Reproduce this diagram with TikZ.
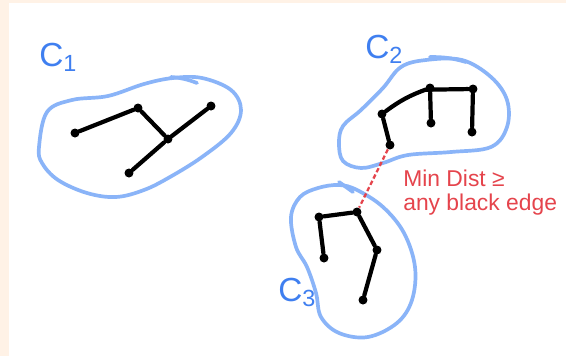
\documentclass[tikz,border=0pt]{standalone}
\usepackage{fontspec}
\setmainfont{Liberation Sans}
\definecolor{cream}{HTML}{FFF2E6}
\definecolor{blobblue}{HTML}{8AB4F8}
\definecolor{labelblue}{HTML}{3F7FF0}
\definecolor{notered}{HTML}{E5444C}
\tikzset{
  vert/.style={circle, fill=black, inner sep=0pt, minimum size=0.18cm},
  edge/.style={line width=2.4pt, line cap=round},
  blob/.style={blobblue, line width=2.1pt, line cap=round},
  clabel/.style={text=labelblue, font=\fontsize{19}{19}\selectfont, inner sep=0pt},
  note/.style={text=notered, font=\fontsize{13}{13.5}\selectfont, align=left, inner sep=0pt},
}

\begin{document}
\begin{tikzpicture}[x=0.02cm, y=-0.02cm]
    \fill[cream] (0,0) rectangle (566,356);
    \fill[white] (9,3) rectangle (566,356);
    \useasboundingbox (0,0) rectangle (566,356);

    % cluster outlines
    \draw[blob] plot[smooth cycle, tension=0.6] coordinates {(39,147) (47,112) (72,100) (108,96) (144,84) (173,78) (202,78) (231,90) (241,110) (231,133) (202,157) (170,177) (144,190) (116,197) (87,193) (58,180) (42,163)};
    \draw[blob] (171,77) to[bend left=8] (197,83);
    \draw[blob] plot[smooth cycle, tension=0.6] coordinates {(339,143) (343,126) (361,110) (383,88) (401,67) (426,60) (462,60) (491,77) (507,100) (507,127) (491,147) (451,152) (408,155) (383,163) (361,168) (343,161)};
    \draw[blob] (430,57) to[bend left=8] (466,62);
    \draw[blob] plot[smooth cycle, tension=0.6] coordinates {(339,185) (357,190) (383,207) (404,233) (415,267) (412,300) (397,323) (368,337) (339,333) (321,317) (316,293) (307,267) (296,247) (291,217) (300,197) (318,188)};
    \draw[blob] (339,182) -- (353,192);

    % cluster labels
    \node[clabel, anchor=base west] (c1) at (39,66) {C\textsubscript{1}};
    \node[clabel, anchor=base west] (c2) at (365,58) {C\textsubscript{2}};
    \node[clabel, anchor=base west] (c3) at (278,301) {C\textsubscript{3}};

    % first cluster
    \node[vert] (a) at (75,133) {};
    \node[vert] (b) at (138,108) {};
    \node[vert] (c) at (168,139) {};
    \node[vert] (d) at (211,106) {};
    \node[vert] (e) at (129,173) {};
    \draw[edge] (a) -- (b) -- (c) -- (d);
    \draw[edge] (c) -- (e);

    % second cluster
    \node[vert] (f) at (382,114) {};
    \node[vert] (g) at (430,88) {};
    \node[vert] (h) at (473,89) {};
    \node[vert] (i) at (431,123) {};
    \node[vert] (j) at (472,132) {};
    \node[vert] (k) at (390,145) {};
    \draw[edge] (k) -- (f) to[bend left=8] (g) -- (h) -- (j);
    \draw[edge] (g) -- (i);

    % third cluster
    \node[vert] (l) at (319,217) {};
    \node[vert] (m) at (357,212) {};
    \node[vert] (n) at (324,258) {};
    \node[vert] (o) at (377,250) {};
    \node[vert] (p) at (363,300) {};
    \draw[edge] (n) -- (l) -- (m) -- (o) -- (p);

    % shortest link between clusters
    \draw[notered, line width=1.3pt, dash pattern=on 2.5pt off 1.5pt] (k) -- (m);
    \node[note, anchor=north west] (dist) at (403,170) {Min Dist ≥\\any black edge};
\end{tikzpicture}
\end{document}
